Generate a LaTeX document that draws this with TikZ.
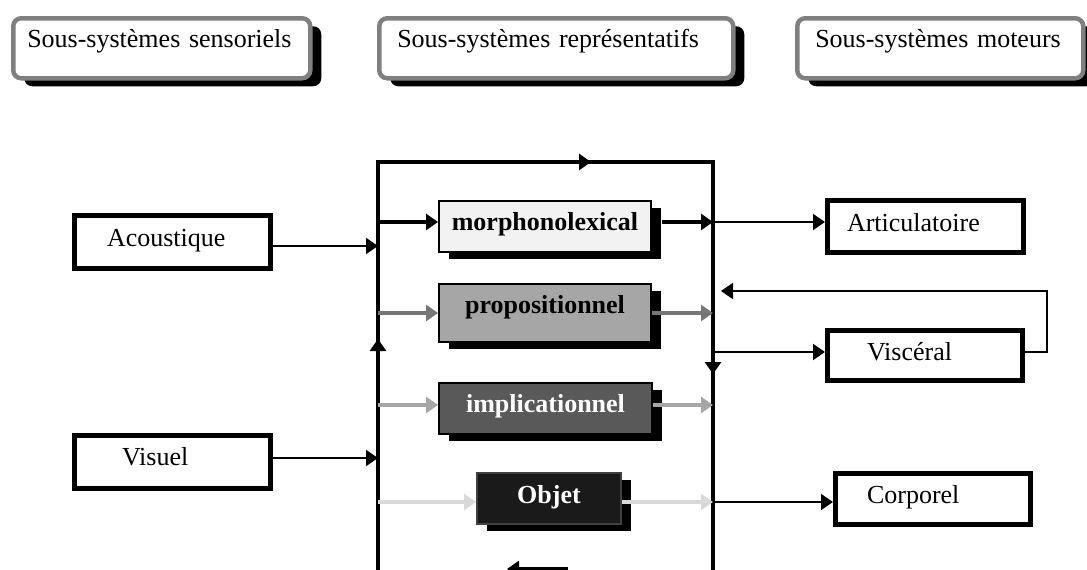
\documentclass[tikz,border=0pt]{standalone}
\usepackage{fontspec}
\setmainfont{Liberation Serif}
\usetikzlibrary{arrows.meta,shadows,calc}
\definecolor{headgray}{HTML}{808080}
\definecolor{morphfill}{HTML}{F2F2F2}
\definecolor{propfill}{HTML}{A6A6A6}
\definecolor{implfill}{HTML}{595959}
\definecolor{objfill}{HTML}{1A1A1A}
\definecolor{propline}{HTML}{767676}
\definecolor{implline}{HTML}{A6A6A6}
\definecolor{objline}{HTML}{D9D9D9}
\tikzset{
  txt/.style={font=\fontsize{26}{30}\selectfont},
  headbox/.style={txt, draw=headgray, line width=4.5pt, rounded corners=8pt, fill=white,
    inner ysep=0pt, align=left, anchor=north west, text height=29pt, text depth=31pt,
    drop shadow={shadow xshift=11pt, shadow yshift=-8pt, fill=black, opacity=1}},
  rowbox/.style={txt, font=\fontsize{26}{30}\selectfont\bfseries, draw=black, line width=2pt,
    inner ysep=0pt, inner xsep=0pt, anchor=north west, text height=29pt, text depth=22pt,
    drop shadow={shadow xshift=10pt, shadow yshift=-7pt, fill=black, opacity=1}},
  sidebox/.style={txt, draw=black, line width=5pt, fill=white, inner ysep=0pt,
    align=left, anchor=north west},
  tip/.style={-{Triangle[length=12pt,width=16pt]}},
  conn/.style={line width=2pt, tip},
  fatconn/.style={line width=4.5pt, tip},
  framel/.style={line width=4.5pt}
}
\begin{document}
\begin{tikzpicture}[x=1pt,y=-1pt]
\useasboundingbox (0,0) rectangle (1087,570);
\clip (0,0) rectangle (1087,570);

% header boxes
\node[headbox, text width=269pt, inner xsep=14pt] (hs) at (11,16) {Sous-systèmes sensoriels};
\node[headbox, text width=318pt, inner xsep=18pt] (hr) at (377,16) {Sous-systèmes représentatifs};
\node[headbox, text width=250pt, inner xsep=18pt] (hm) at (795,16) {Sous-systèmes moteurs};

% frame coordinates
\coordinate (TL) at (378,162);
\coordinate (TR) at (713,162);
\coordinate (TM) at (591,162);
\coordinate (BL) at (378,580);
\coordinate (BR) at (713,580);
\coordinate (LM) at (378,339);
\coordinate (RM) at (713,374);
\coordinate (BA1) at (568,569);
\coordinate (BA2) at (507,569);

\draw[framel] (BL) -- (TL) -- (TR) -- (BR);
\draw[framel, tip] (TL) -- (TM);
\draw[framel, tip] (BL) -- (LM);
\draw[framel, tip] (TR) -- (RM);
\draw[framel, tip] (BA1) -- (BA2);

% central boxes
\node[rowbox, fill=morphfill, minimum width=212pt] (morph) at (438,200) {morphonolexical};
\node[rowbox, fill=propfill, minimum width=212pt, text depth=29pt] (prop) at (438,283) {propositionnel};
\node[rowbox, fill=implfill, text=white, minimum width=213pt] (impl) at (438,382) {implicationnel};
\node[rowbox, fill=objfill, draw=black!75, text=white, minimum width=144pt, text height=30pt, text depth=21pt] (obj) at (476,472) {Objet};

% side boxes
\node[sidebox, text width=131pt, inner xsep=32.5pt, text height=30.5pt, text depth=22.5pt] (ac) at (72,213) {Acoustique};
\node[sidebox, text width=101pt, inner xsep=47.5pt, text height=29.5pt, text depth=23.5pt] (vis) at (72,433) {Visuel};
\node[sidebox, text width=157pt, inner xsep=19.5pt, text height=30.5pt, text depth=21.5pt] (art) at (825,198) {Articulatoire};
\node[sidebox, text width=116pt, inner xsep=39.5pt, text height=29.5pt, text depth=20.5pt] (visc) at (825,328) {Viscéral};
\node[sidebox, text width=132pt, inner xsep=31.5pt, text height=29.5pt, text depth=21.5pt] (corp) at (833,471) {Corporel};

% connector coordinates
\coordinate (L1) at (378,222);
\coordinate (R1) at (713,222);
\coordinate (L2) at (378,313);
\coordinate (R2) at (713,313);
\coordinate (L3) at (378,405);
\coordinate (R3) at (713,405);
\coordinate (L4) at (378,502);
\coordinate (R4) at (713,502);
\coordinate (LA) at (378,246);
\coordinate (LV) at (378,458);
\coordinate (RV) at (713,352);
\coordinate (FBc) at (1047,291);
\coordinate (FB) at (721,291);

% row connectors
\draw[fatconn] (L1) -- (L1 -| morph.west);
\draw[fatconn] ($(R1 -| morph.east)+(10,0)$) -- (R1);
\draw[fatconn, propline] (L2) -- (L2 -| prop.west);
\draw[fatconn, propline] (R2 -| prop.east) -- (R2);
\draw[fatconn, implline] (L3) -- (L3 -| impl.west);
\draw[fatconn, implline] (R3 -| impl.east) -- (R3);
\draw[fatconn, objline] (L4) -- (L4 -| obj.west);
\draw[fatconn, objline] (R4 -| obj.east) -- (R4);

% sensory inputs
\draw[conn] (ac.east |- LA) -- (LA);
\draw[conn] (vis.east |- LV) -- (LV);

% motor outputs
\draw[conn] (R1) -- (R1 -| art.west);
\draw[conn] (RV) -- (RV -| visc.west);
\draw[conn] (R4) -- (R4 -| corp.west);
\draw[conn] (visc.east |- RV) -| (FBc) -- (FB);
\end{tikzpicture}
\end{document}
